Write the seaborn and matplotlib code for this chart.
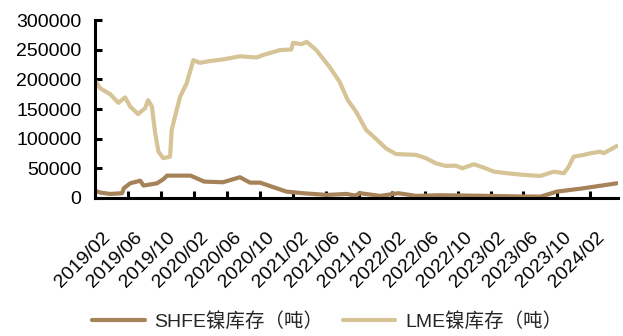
#!/usr/bin/env python3
"""Nickel inventory: SHFE vs LME, 2019/02 - 2024/05."""

import matplotlib.dates as mdates
import matplotlib.pyplot as plt
import matplotlib.transforms as mtransforms
import pandas as pd
import seaborn as sns

sns.set_style("ticks")
plt.rcParams["font.family"] = ["Liberation Sans", "Noto Sans CJK SC", "DejaVu Sans"]

SHFE_LABEL = "SHFE镍库存（吨）"
LME_LABEL = "LME镍库存（吨）"

shfe_dates = [
    "2019-02-01", "2019-02-19", "2019-03-28", "2019-05-11", "2019-05-17",
    "2019-06-10", "2019-07-17", "2019-07-29", "2019-09-17", "2019-10-10",
    "2019-10-24", "2020-01-19", "2020-03-09", "2020-05-17", "2020-07-19",
    "2020-08-25", "2020-10-01", "2021-01-07", "2021-03-09", "2021-06-04",
    "2021-08-17", "2021-09-17", "2021-10-06", "2021-12-19", "2022-02-24",
    "2022-05-01", "2022-07-28", "2023-01-06", "2023-05-16", "2023-08-03",
    "2023-10-02", "2024-01-09", "2024-05-11",
]
shfe_values = [
    12000, 9000, 6700, 7900, 16300,
    24700, 29000, 20800, 24700, 31500,
    37600, 37600, 27500, 26400, 34900,
    25800, 25800, 10600, 7900, 5000,
    6700, 3900, 7900, 3400, 7900,
    3400, 4500, 3500, 2500, 2200,
    10600, 16300, 24700,
]

lme_dates = [
    "2019-02-01", "2019-02-19", "2019-03-28", "2019-04-27", "2019-05-22",
    "2019-06-10", "2019-07-09", "2019-08-04", "2019-08-15", "2019-08-29",
    "2019-09-10", "2019-09-22", "2019-10-10", "2019-11-04", "2019-11-10",
    "2019-11-22", "2019-12-11", "2020-01-04", "2020-01-29", "2020-02-22",
    "2020-03-30", "2020-05-17", "2020-07-19", "2020-09-18", "2020-10-11",
    "2020-12-13", "2021-01-25", "2021-01-31", "2021-03-03", "2021-03-23",
    "2021-04-27", "2021-06-15", "2021-07-22", "2021-08-21", "2021-09-21",
    "2021-10-28", "2021-12-08", "2022-01-09", "2022-02-15", "2022-04-30",
    "2022-06-06", "2022-07-12", "2022-08-18", "2022-09-24", "2022-10-18",
    "2022-11-30", "2023-01-06", "2023-02-12", "2023-04-02", "2023-06-02",
    "2023-08-03", "2023-09-21", "2023-10-28", "2023-11-15", "2023-12-03",
    "2024-01-09", "2024-02-03", "2024-03-11", "2024-03-23", "2024-05-11",
]
lme_values = [
    198000, 185000, 175000, 160500, 169600,
    154000, 141500, 151600, 165000, 154000,
    109500, 78000, 67000, 69600, 114600,
    137000, 170700, 193000, 232500, 228000,
    231000, 233700, 239000, 237000, 241000,
    249400, 250600, 261700, 259500, 263400,
    249400, 221000, 196000, 165000, 145400,
    114600, 97700, 83700, 74000, 72600,
    67000, 58500, 54000, 54400, 50000,
    56800, 51000, 44300, 41600, 38800,
    37100, 44300, 41600, 52800, 69600,
    72500, 75300, 78000, 75300, 87600,
]

SHFE_COLOR = "#A68259"
LME_COLOR = "#D6C497"


def main() -> None:
    """Draw both inventory series and save the figure."""
    shfe = pd.DataFrame({"date": pd.to_datetime(shfe_dates), "value": shfe_values})
    lme = pd.DataFrame({"date": pd.to_datetime(lme_dates), "value": lme_values})

    fig, ax = plt.subplots(figsize=(6.23, 3.36), dpi=100)
    fig.subplots_adjust(left=0.153, right=0.992, top=0.94, bottom=0.411)

    sns.lineplot(data=shfe, x="date", y="value", ax=ax, color=SHFE_COLOR,
                 linewidth=3, label=SHFE_LABEL)
    sns.lineplot(data=lme, x="date", y="value", ax=ax, color=LME_COLOR,
                 linewidth=3, label=LME_LABEL)

    ax.set_xlim(pd.Timestamp("2019-02-01"), pd.Timestamp("2024-05-15"))
    ax.set_ylim(0, 300000)
    ax.set_yticks(range(0, 300001, 50000))
    ax.xaxis.set_major_locator(mdates.MonthLocator(bymonth=(2, 6, 10)))
    ax.xaxis.set_major_formatter(mdates.DateFormatter("%Y/%m"))
    ax.set_xlabel("")
    ax.set_ylabel("")

    for side in ("top", "right"):
        ax.spines[side].set_visible(False)
    for side in ("left", "bottom"):
        ax.spines[side].set_linewidth(2.2)
        ax.spines[side].set_color("black")
    ax.tick_params(axis="both", direction="in", length=5, width=2.2,
                   labelsize=14, colors="black")
    ax.tick_params(axis="y", pad=10)
    ax.tick_params(axis="x", pad=0)
    # rotated labels sit below and a bit right of their ticks
    shift = mtransforms.ScaledTranslation(0.06, -0.31, fig.dpi_scale_trans)
    for lbl in ax.get_xticklabels():
        lbl.set_rotation(45)
        lbl.set_ha("right")
        lbl.set_va("top")
        lbl.set_rotation_mode("anchor")
        lbl.set_transform(lbl.get_transform() + shift)

    ax.get_legend().remove()
    handles, labels = ax.get_legend_handles_labels()
    fig.legend(handles, labels, loc="lower center", bbox_to_anchor=(0.525, -0.037),
               ncol=2, frameon=False, fontsize=14, handlelength=2.7,
               columnspacing=1.0, handletextpad=0.5)

    fig.savefig("out.png", dpi=100)


if __name__ == "__main__":
    main()
